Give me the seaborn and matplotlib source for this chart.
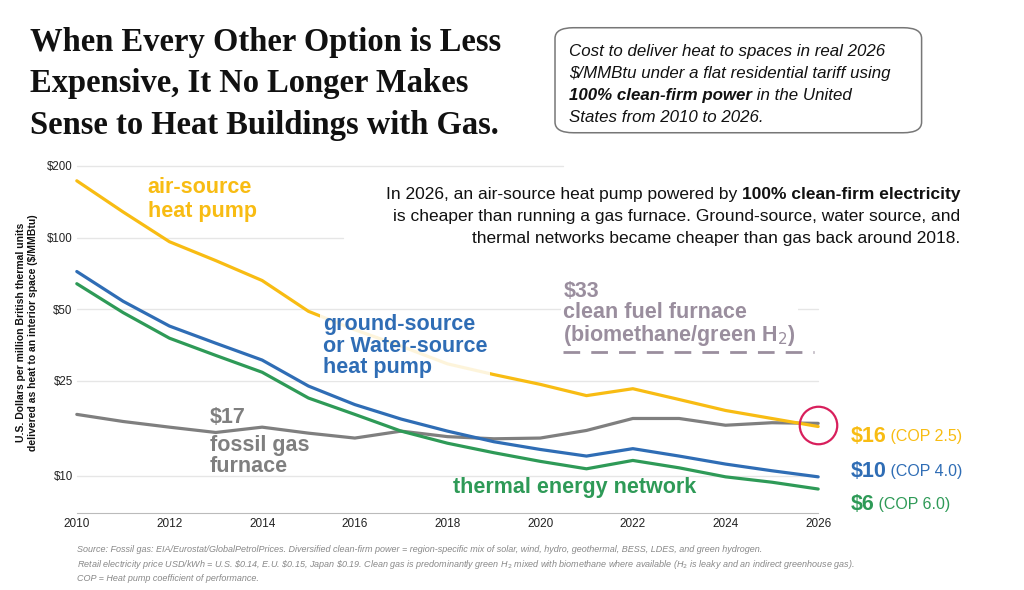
import matplotlib
matplotlib.use("Agg")
import matplotlib.pyplot as plt
from matplotlib.patches import FancyBboxPatch
from matplotlib.ticker import FixedLocator, NullLocator
import pandas as pd
import seaborn as sns

# data ($/MMBtu, log scale)
years = list(range(2010, 2027))
air_source = [173, 128, 96, 80, 66, 49, 41, 35, 29.5, 26.6, 24.2, 21.7, 23.2, 20.9, 18.8, 17.4, 16.1]
ground_source = [72, 54, 42.5, 36, 30.6, 23.8, 19.9, 17.3, 15.4, 13.9, 12.9, 12.1, 13.0, 12.1, 11.2, 10.5, 9.9]
thermal_net = [64, 48.4, 37.8, 32, 27.2, 21.2, 18.1, 15.4, 13.7, 12.5, 11.5, 10.7, 11.6, 10.8, 9.9, 9.4, 8.8]
fossil_gas = [18.1, 16.9, 16.0, 15.2, 16.0, 15.1, 14.4, 15.4, 14.6, 14.3, 14.4, 15.5, 17.4, 17.4, 16.3, 16.7, 16.6]
clean_fuel_years = [2020.5, 2025.9]
clean_fuel = [33, 33]

y_ticks = [10, 25, 50, 100, 200]
y_labels = ["$10", "$25", "$50", "$100", "$200"]
x_ticks = list(range(2010, 2027, 2))

GOLD = "#F8BC13"
BLUE = "#2F6DB5"
GREEN = "#2E9A57"
GRAY = "#7F7F7F"
PURPLE = "#9A8E9E"
RED = "#D81F5C"

series = {"air-source heat pump": air_source,
          "ground-source heat pump": ground_source,
          "thermal energy network": thermal_net,
          "fossil gas furnace": fossil_gas}
df = pd.concat([pd.DataFrame({"year": years, "cost": v, "tech": k}) for k, v in series.items()])

sns.set_style("white")
plt.rcParams["font.family"] = ["Liberation Sans", "DejaVu Sans"]

fig = plt.figure(figsize=(10.24, 5.9), dpi=100)
ax = fig.add_axes([0.075, 0.131, 0.724, 0.588])
renderer = fig.canvas.get_renderer()


def text_width(t):
    # width of a text object in figure fraction
    bb = t.get_window_extent(renderer=renderer)
    return bb.width / fig.bbox.width


ax.set_yscale("log")
# gridlines (parts hidden behind the text boxes in the original)
grid_xmax = {10: 1, 25: 1, 50: 1, 100: 0.359, 200: 0.656}
for y in y_ticks:
    ax.axhline(y, xmax=grid_xmax[y], color="#E6E6E6", lw=1, zorder=0)

sns.lineplot(data=df, x="year", y="cost", hue="tech",
             palette={"air-source heat pump": GOLD, "ground-source heat pump": BLUE,
                      "thermal energy network": GREEN, "fossil gas furnace": GRAY},
             hue_order=["fossil gas furnace", "thermal energy network",
                        "ground-source heat pump", "air-source heat pump"],
             lw=2.3, legend=False, ax=ax, zorder=3)
for line in ax.get_lines():
    line.set_clip_on(False)

ax.plot(clean_fuel_years, clean_fuel, color=PURPLE, lw=2, dashes=(6, 4), zorder=6)

ax.set_xlim(2010, 2026)
ax.set_ylim(7.0, 200)
ax.yaxis.set_major_locator(FixedLocator(y_ticks))
ax.yaxis.set_minor_locator(NullLocator())
ax.set_yticklabels(y_labels)
ax.set_xticks(x_ticks)
ax.tick_params(axis="x", length=0, labelsize=8.5, colors="#222222", pad=4)
ax.tick_params(axis="y", length=0, labelsize=8.3, colors="#222222", pad=3)
for s in ["top", "right", "left"]:
    ax.spines[s].set_visible(False)
ax.spines["bottom"].set_color("#BBBBBB")
ax.set_xlabel("")
ax.set_ylabel("U.S. Dollars per million British thermal units\ndelivered as heat to an interior space ($/MMBtu)",
              fontsize=7.5, fontweight="bold", color="#111111", linespacing=1.15)
ax.yaxis.set_label_coords(-0.053, 0.52)

# highlight circle at 2026
ax.plot([2026], [16.3], marker="o", ms=27, mfc="none", mec=RED, mew=1.6, clip_on=False, zorder=7)

# series labels
lab = dict(fontsize=15.5, fontweight="bold", va="center")
ax.text(2011.53, 144, "air-source\nheat pump", color=GOLD, linespacing=1.2, **lab)
ax.text(2015.31, 35, "ground-source\nor Water-source\nheat pump", color=BLUE, linespacing=1.02, zorder=4,
        bbox=dict(facecolor="white", edgecolor="none", alpha=0.85, pad=2), **lab)
ax.text(2012.87, 17.6, "$17", color=GRAY, **lab)
ax.text(2012.87, 12.1, "fossil gas\nfurnace", color=GRAY, linespacing=1.02, **lab)
ax.text(2020.5, 47.5, "$33\nclean fuel furnace\n(biomethane/green H$_2$)", color=PURPLE, linespacing=1.0,
        zorder=4, bbox=dict(facecolor="white", edgecolor="none", pad=2), **lab)
ax.text(2018.12, 8.9, "thermal energy network", color=GREEN, **lab)

# end labels
for yv, big, small, c in [(14.6, "$16", " (COP 2.5)", GOLD), (10.4, "$10", " (COP 4.0)", BLUE),
                          (7.6, "$6", " (COP 6.0)", GREEN)]:
    t = ax.text(2026.7, yv, big, color=c, fontsize=15.5, fontweight="bold", va="center", clip_on=False)
    bb = t.get_window_extent(renderer=renderer).transformed(ax.transData.inverted())
    ax.text(bb.x1, yv, small, color=c, fontsize=11.5, va="center", clip_on=False)

# annotation (right aligned, first line has a bold part)
ann_right = 0.938
ann_kw = dict(fontsize=12.5, color="#111111", va="baseline", ha="right")
tb = fig.text(ann_right, 0.662, "100% clean-firm electricity", fontweight="bold", **ann_kw)
fig.text(ann_right - text_width(tb), 0.662, "In 2026, an air-source heat pump powered by ", **ann_kw)
fig.text(ann_right, 0.625, "is cheaper than running a gas furnace. Ground-source, water source, and", **ann_kw)
fig.text(ann_right, 0.588, "thermal networks became cheaper than gas back around 2018.", **ann_kw)

# title
fig.text(0.029, 0.955, "When Every Other Option is Less\nExpensive, It No Longer Makes\nSense to Heat Buildings with Gas.",
         family=["Liberation Serif", "DejaVu Serif"], fontweight="bold", fontsize=23.5, va="top",
         linespacing=1.45, color="#111111")

# description box
box = FancyBboxPatch((0.542, 0.775), 0.358, 0.178, boxstyle="round,pad=0,rounding_size=0.018",
                     transform=fig.transFigure, facecolor="white", edgecolor="#777777", lw=1.1)
fig.patches.append(box)
box_kw = dict(fontsize=12.2, style="italic", color="#111111", va="baseline")
fig.text(0.556, 0.905, "Cost to deliver heat to spaces in real 2026", **box_kw)
fig.text(0.556, 0.868, "$/MMBtu under a flat residential tariff using", **box_kw)
tb = fig.text(0.556, 0.831, "100% clean-firm power", fontweight="bold", **box_kw)
fig.text(0.556 + text_width(tb), 0.831, " in the United", **box_kw)
fig.text(0.556, 0.794, "States from 2010 to 2026.", **box_kw)

# footnote
fig.text(0.075, 0.076,
         "Source: Fossil gas: EIA/Eurostat/GlobalPetrolPrices. Diversified clean-firm power = region-specific mix of solar, wind, hydro, geothermal, BESS, LDES, and green hydrogen.\n"
         "Retail electricity price USD/kWh = U.S. \\$0.14, E.U. \\$0.15, Japan \\$0.19. Clean gas is predominantly green H$_2$ mixed with biomethane where available (H$_2$ is leaky and an indirect greenhouse gas).\n"
         "COP = Heat pump coefficient of performance.",
         fontsize=6.5, style="italic", color="#888888", va="top", linespacing=1.45)

fig.savefig("out.png", dpi=100)
